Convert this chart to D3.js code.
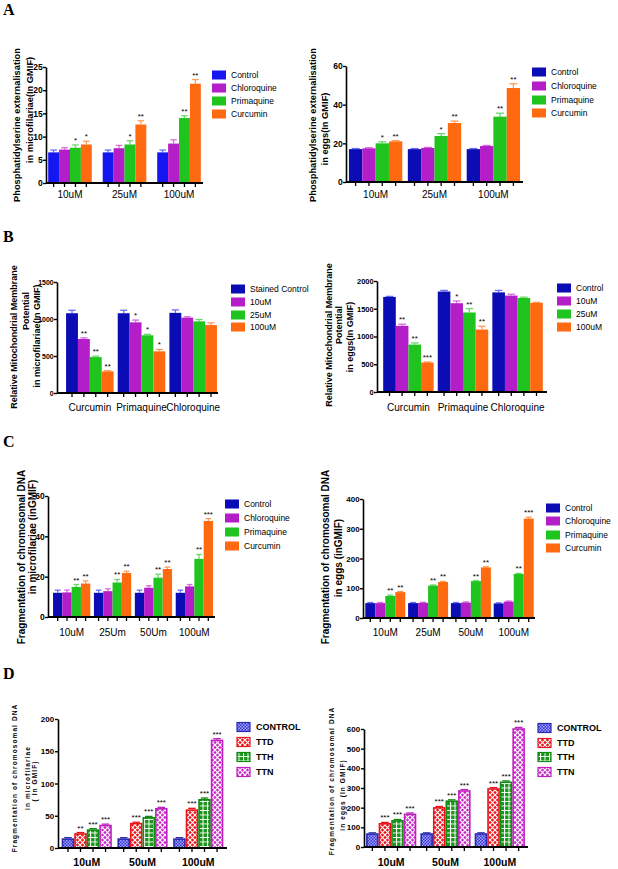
<!DOCTYPE html>
<html><head><meta charset="utf-8">
<script src="https://cdn.jsdelivr.net/npm/d3@7"></script>
<style>body{margin:0;background:#fff}svg{display:block}text{font-family:Arial,"Liberation Sans",sans-serif}</style>
</head><body><svg id="c" width="618" height="869"></svg>
<script>
// ---------- DATA ----------
const aGroups = ["10uM","25uM","100uM"];
const aSeries = ["Control","Chloroquine","Primaquine","Curcumin"];
const a1Values = [[6.6,6.6,6.6],[7.2,7.5,8.5],[7.6,8.3,14.0],[8.3,12.6,21.4]];
const a1Errors = [[0.5,0.5,0.5],[0.4,0.6,0.8],[0.6,0.8,0.5],[0.7,0.8,0.9]];
const a1Stars  = [["","",""],["","",""],["*","*","**"],["*","**","**"]];
const a1Ticks  = [0,5,10,15,20,25];
const a2Values = [[17.0,17.0,17.0],[17.4,17.6,18.6],[20.0,23.8,33.8],[21.0,30.5,48.6]];
const a2Errors = [[0.3,0.3,0.3],[0.3,0.3,0.3],[0.8,1.2,1.8],[0.4,1.0,2.2]];
const a2Stars  = [["","",""],["","",""],["*","*","**"],["**","**","**"]];
const a2Ticks  = [0,20,40,60];

const bGroups = ["Curcumin","Primaquine","Chloroquine"];
const b1Series = ["Stained Control","10uM","25uM","100uM"];
const b2Series = ["Control","10uM","25uM","100uM"];
const b1Values = [[1078,1078,1083],[730,955,1018],[485,780,968],[292,563,918]];
const b1Errors = [[40,40,40],[15,30,12],[12,12,25],[10,25,30]];
const b1Stars  = [["","",""],["**","*",""],["**","*",""],["**","*",""]];
const b1Ticks  = [0,500,1000,1500];
const b2Values = [[1713,1810,1795],[1192,1600,1737],[854,1433,1694],[531,1125,1606]];
const b2Errors = [[10,20,35],[30,40,25],[30,70,15],[10,60,10]];
const b2Stars  = [["","",""],["**","*",""],["**","**",""],["***","**",""]];
const b2Ticks  = [0,500,1000,1500,2000];

const c1Groups = ["10uM","25Um","50Um","100uM"];
const c2Groups = ["10uM","25uM","50uM","100uM"];
const cSeries = ["Control","Chloroquine","Primaquine","Curcumin"];
const c1Values = [[12,12,12,12],[12.2,12.8,14.5,15.2],[14.9,17.1,19.5,28.8],[16.6,21.8,23.8,47.6]];
const c1Errors = [[1.3,1.3,1.3,1.3],[1.2,1.2,1.0,0.9],[1.2,1.5,1.7,2.2],[1.3,0.9,0.9,1.2]];
const c1Stars  = [["","","",""],["","","",""],["**","**","**","**"],["**","**","**","***"]];
const c1Ticks  = [0,20,40,60];
const c2Values = [[50,50,50,49],[50,51,52,55],[74,109,124,148],[87,121,170,334]];
const c2Errors = [[2,2,2,2],[2,2,2,2],[3,2,2,2],[2,2,2,5]];
const c2Stars  = [["","","",""],["","","",""],["**","**","**","**"],["**","**","**","***"]];
const c2Ticks  = [0,100,200,300,400];

const dGroups = ["10uM","50uM","100uM"];
const dSeries = ["CONTROL","TTD","TTH","TTN"];
const d1Values = [[15,15,15],[23,39,60],[29,48,76],[36,62,168]];
const d1Errors = [[1,1,1],[1,1,1.5],[1,1,1.5],[1,1,1.5]];
const d1Stars  = [["","",""],["**","***","***"],["***","***","***"],["***","***","***"]];
const d1Ticks  = [0,50,100,150,200];
const d2Values = [[70,70,70],[122,203,299],[137,237,333],[170,289,604]];
const d2Errors = [[2,2,2],[3,3,3],[3,3,3],[3,3,4]];
const d2Stars  = [["","",""],["***","***","***"],["***","***","***"],["***","***","***"]];
const d2Ticks  = [0,100,200,300,400,500,600];

// ---------- STYLE ----------
const cBlueA = "#1616f0", cBlue = "#0c0cb4", cPurple = "#b41ec8", cGreen = "#1fc41f", cOrange = "#ff6a10";
const eBlue = "#6b6bff", ePurple = "#d86ad9", eGreen = "#6ad86a", eOrange = "#ff9a5a";

const svg = d3.select("#c");
const defs = svg.append("defs");

function mkPattern(id, size, base, draw){
  const p = defs.append("pattern").attr("id", id).attr("patternUnits","userSpaceOnUse")
    .attr("width", size).attr("height", size);
  p.append("rect").attr("width", size).attr("height", size).attr("fill", base);
  draw(p);
}
mkPattern("pCtrl", 3, "#3232d2", p => {
  p.append("rect").attr("x",0).attr("y",0).attr("width",1.5).attr("height",1.5).attr("fill","#a8a8ff");
  p.append("rect").attr("x",1.5).attr("y",1.5).attr("width",1.5).attr("height",1.5).attr("fill","#a8a8ff");
});
mkPattern("pTTD", 5, "#e8161b", p => {
  p.append("path").attr("d","M0,0L5,5M5,0L0,5").attr("stroke","#fff").attr("stroke-width",1.1);
});
mkPattern("pTTH", 4.5, "#1a961a", p => {
  p.append("path").attr("d","M0,0.5H4.5M0.5,0V4.5").attr("stroke","#fff").attr("stroke-width",1);
});
mkPattern("pTTN", 5, "#c828c8", p => {
  p.append("path").attr("d","M0,0L5,5M5,0L0,5").attr("stroke","#fff").attr("stroke-width",1.2);
});

function panel(o){
  const g = svg.append("g");
  const y = d3.scaleLinear().domain([0, o.yMax]).range([o.bottom, o.top]);
  const x0 = d3.scaleBand().domain(o.groups).range(o.xRange).paddingInner(o.pi).paddingOuter(o.po);
  const x1 = d3.scaleBand().domain(o.series).range([0, x0.bandwidth()]);
  const bw = x1.bandwidth();

  o.series.forEach((s, si) => {
    o.groups.forEach((gr, gi) => {
      const v = o.values[si][gi], e = o.errors[si][gi];
      const bx = x0(gr) + x1(s);
      const cx = bx + bw/2;
      g.append("line").attr("x1", cx).attr("x2", cx).attr("y1", y(v)).attr("y2", y(v+e))
        .attr("stroke", o.errColors[si]).attr("stroke-width", 1.3);
      g.append("line").attr("x1", cx - bw*0.3).attr("x2", cx + bw*0.3).attr("y1", y(v+e)).attr("y2", y(v+e))
        .attr("stroke", o.errColors[si]).attr("stroke-width", 1.3);
      if (o.patterns) {
        g.append("rect").attr("x", bx+0.8).attr("y", y(v)+0.8).attr("width", bw-1.6)
          .attr("height", Math.max(0, o.bottom - y(v) - 0.8))
          .attr("fill", "url(#" + o.patterns[si] + ")").attr("stroke", o.colors[si]).attr("stroke-width", 1.6);
      } else {
        g.append("rect").attr("x", bx).attr("y", y(v)).attr("width", bw).attr("height", o.bottom - y(v))
          .attr("fill", o.colors[si]);
      }
      const st = o.stars[si][gi];
      if (st) g.append("text").attr("x", cx).attr("y", y(v+e) - 2).attr("text-anchor","middle")
        .attr("font-size", 8).attr("fill","#000").text(st);
    });
  });

  const ya = d3.axisLeft(y).tickValues(o.ticks).tickFormat(d3.format("d"))
    .tickSize(3).tickSizeOuter(0).tickPadding(o.tickPad != null ? o.tickPad : 0.3);
  const yg = g.append("g").attr("transform", `translate(${o.axisX},0)`).call(ya);
  yg.select(".domain").attr("stroke","#000").attr("stroke-width",1.6);
  yg.selectAll(".tick line").attr("stroke","#000").attr("stroke-width",1.4);
  yg.selectAll(".tick text").attr("font-size", o.tickFont).attr("font-weight","bold").attr("fill","#000");

  g.append("line").attr("x1", o.axisX).attr("x2", o.axisEnd).attr("y1", o.bottom).attr("y2", o.bottom)
    .attr("stroke","#000").attr("stroke-width",1.8);
  o.groups.forEach(gr => o.series.forEach(s => {
    const cx = x0(gr) + x1(s) + bw/2;
    g.append("line").attr("x1", cx).attr("x2", cx).attr("y1", o.bottom).attr("y2", o.bottom + 4)
      .attr("stroke","#000").attr("stroke-width",1.3);
  }));
  o.groups.forEach(gr => {
    g.append("text").attr("x", x0(gr) + x0.bandwidth()/2).attr("y", o.labelY)
      .attr("text-anchor","middle").attr("font-size", o.labelFont)
      .attr("font-weight", o.labelBold ? "bold" : "normal").attr("fill","#000").text(gr);
  });

  o.title.forEach((t, i) => {
    g.append("text").attr("transform", `translate(${o.titleX[i]},${o.titleY[i]}) rotate(-90)`)
      .attr("text-anchor","middle").attr("dy","0.35em").attr("font-size", o.titleFont)
      .attr("font-weight","bold").attr("letter-spacing", o.titleSpacing || 0).attr("fill","#000").text(t);
  });

  o.series.forEach((s, si) => {
    const ly = o.legY[si];
    g.append("rect").attr("x", o.legX).attr("y", ly - 4.5).attr("width", o.patterns ? 13 : 14).attr("height", 9)
      .attr("fill", o.patterns ? "url(#" + o.patterns[si] + ")" : o.colors[si])
      .attr("stroke", o.patterns ? o.colors[si] : "none").attr("stroke-width", 1.2);
    g.append("text").attr("x", o.legX + 19).attr("y", ly).attr("dy","0.35em")
      .attr("font-size", o.legFont).attr("font-weight", o.patterns ? "bold" : "normal").attr("fill","#000").text(s);
  });
}

[["A",15],["B",242],["C",447],["D",679]].forEach(([t, yy]) => {
  svg.append("text").attr("x", 3).attr("y", yy)
    .style("font-family","'Liberation Serif','Times New Roman',serif")
    .attr("font-weight","bold").attr("font-size", 16).attr("fill","#000").text(t);
});

const stdColors = [cBlue, cPurple, cGreen, cOrange];
const stdErr = [eBlue, ePurple, eGreen, eOrange];

panel({groups:aGroups, series:aSeries, values:a1Values, errors:a1Errors, stars:a1Stars, ticks:a1Ticks,
  yMax:25, top:67, bottom:183, axisX:46, axisEnd:203, xRange:[46,203], pi:0.2, po:0.04,
  colors:[cBlueA,cPurple,cGreen,cOrange], errColors:stdErr, tickFont:8.5, labelFont:10, labelY:197.5,
  title:["Phosphatidylserine externalisation","in microfilariae(In GMIF)"], titleX:[17,30], titleY:[125,110], titleFont:9.3,
  legX:212, legY:[75,88,101,114], legFont:8.5});

panel({groups:aGroups, series:aSeries, values:a2Values, errors:a2Errors, stars:a2Stars, ticks:a2Ticks,
  yMax:60, top:66, bottom:182, axisX:346, axisEnd:523, xRange:[346,523], pi:0.094, po:0.05,
  colors:stdColors, errColors:stdErr, tickFont:8.5, labelFont:10, labelY:197.5,
  title:["Phosphatidylserine externalisation","in eggs(In GMIF)"], titleX:[313,325], titleY:[125,129], titleFont:9.3,
  legX:532, legY:[72,86,100,113], legFont:8.5});

panel({groups:bGroups, series:b1Series, values:b1Values, errors:b1Errors, stars:b1Stars, ticks:b1Ticks,
  yMax:1500, top:282, bottom:393, axisX:57, axisEnd:218, xRange:[64,219], pi:0.08, po:0.04,
  colors:stdColors, errColors:stdErr, tickFont:7, labelFont:10, labelY:411,
  title:["Relative Mitochondrial Membrane","Potential","in microfilariae(In GMIF)"], titleX:[14,26,36.5], titleY:[337,311,336], titleFont:9,
  legX:231, legY:[289,302,315,327], legFont:8.5});

panel({groups:bGroups, series:b2Series, values:b2Values, errors:b2Errors, stars:b2Stars, ticks:b2Ticks,
  yMax:2000, top:281, bottom:392, axisX:377, axisEnd:547, xRange:[381,545], pi:0.075, po:0.04,
  colors:stdColors, errColors:stdErr, tickFont:7.5, labelFont:10, labelY:411,
  title:["Relative Mitochondrial Membrane","Potential","in eggs(In GMIF)"], titleX:[329,339,350], titleY:[335,325,337], titleFont:9,
  legX:557, legY:[288,301,314,327], legFont:8.5});

panel({groups:c1Groups, series:cSeries, values:c1Values, errors:c1Errors, stars:c1Stars, ticks:c1Ticks,
  yMax:60, top:496, bottom:617, axisX:48, axisEnd:215, xRange:[51,215], pi:0.09, po:0.05,
  colors:stdColors, errColors:stdErr, tickFont:8.5, labelFont:10, labelY:636,
  title:["Fragmentation of chromosomal DNA","in microfilariae (inGMIF)"], titleX:[21,32], titleY:[557,537], titleFont:10,
  legX:225, legY:[504,518,532,546], legFont:8.5});

panel({groups:c2Groups, series:cSeries, values:c2Values, errors:c2Errors, stars:c2Stars, ticks:c2Ticks,
  yMax:400, top:499, bottom:618, axisX:363, axisEnd:535, xRange:[364,535], pi:0.066, po:0.03,
  colors:stdColors, errColors:stdErr, tickFont:8, labelFont:10, labelY:636,
  title:["Fragmentation of chromosomal DNA","in eggs (inGMIF)"], titleX:[325,338], titleY:[557,558], titleFont:10,
  legX:546, legY:[508,521,535,548], legFont:8.5});

const dColors = ["#2a2ab0","#e8161b","#138a13","#c020c0"];
const dErr = ["#2a2ab0","#e8161b","#138a13","#c020c0"];
const dPat = ["pCtrl","pTTD","pTTH","pTTN"];

panel({groups:dGroups, series:dSeries, values:d1Values, errors:d1Errors, stars:d1Stars, ticks:d1Ticks,
  yMax:200, top:719, bottom:848, axisX:58, axisEnd:227, xRange:[60,225], pi:0.1, po:0.03,
  colors:dColors, errColors:dErr, patterns:dPat, tickFont:8, tickPad:0.8, labelFont:10.5, labelBold:true, labelY:866,
  title:["Fragmentation of chromosomal DNA","in microfilariae","( In GMIF)"], titleX:[15,28,35], titleY:[778,778,781], titleFont:6.5, titleSpacing:1.1,
  legX:237, legY:[727,742,757,772], legFont:9});

panel({groups:dGroups, series:dSeries, values:d2Values, errors:d2Errors, stars:d2Stars, ticks:d2Ticks,
  yMax:600, top:729, bottom:847, axisX:364, axisEnd:528, xRange:[365,526], pi:0.075, po:0.02,
  colors:dColors, errColors:dErr, patterns:dPat, tickFont:8, tickPad:0.8, labelFont:10.5, labelBold:true, labelY:866,
  title:["Fragmentation of chromosomal DNA","in eggs (In GMIF)"], titleX:[332,343], titleY:[781,795], titleFont:6.5, titleSpacing:1.1,
  legX:538, legY:[728,743,757,772], legFont:9});
</script></body></html>
